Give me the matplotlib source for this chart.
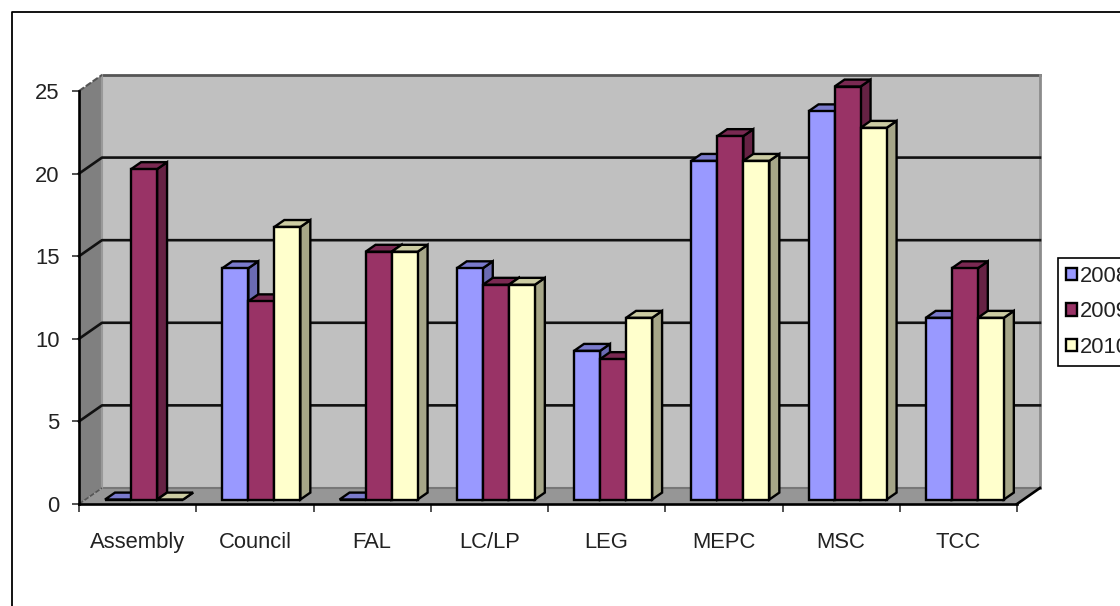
import numpy as np
from matplotlib import pyplot as plt
from matplotlib.lines import Line2D
from matplotlib.patches import Polygon

plt.rcParams['font.family'] = ['Liberation Sans', 'DejaVu Sans']

categories = ['Assembly', 'Council', 'FAL', 'LC/LP', 'LEG', 'MEPC', 'MSC', 'TCC']
years = ['2008', '2009', '2010']
v2008 = [0, 14, 0, 14, 9, 20.5, 23.5, 11]
v2009 = [20, 12, 15, 13, 8.5, 22, 25, 14]
v2010 = [0, 16.5, 15, 13, 11, 20.5, 22.5, 11]
yticks = [0, 5, 10, 15, 20, 25]

# front, top, side colours of each series
front = ['#9999FF', '#993366', '#FFFFCC']
top = ['#7A7ACC', '#7A2952', '#CCCCA3']
side = ['#6B6BB3', '#662244', '#A6A688']

fig = plt.figure(figsize=(11.2, 6.06), dpi=100)
ax = fig.add_axes([79/1120, 1-504/606, (1017-79)/1120, (504-91)/606])
ax.set_xlim(0, 8)
ax.set_ylim(0, 25)

# depth of the box and of the bars, in data units
box_dx, box_dy = 0.196, 0.97
bar_dx, bar_dy = 0.085, 0.42
off_x, off_y = 0.055, 0.27
w = 0.222


def poly(pts, fc, ec='none', lw=0, z=1):
    ax.add_patch(Polygon(pts, closed=True, fc=fc, ec=ec, lw=lw, zorder=z,
                         clip_on=False, joinstyle='miter'))


# walls and floor
poly([(box_dx, box_dy), (8+box_dx, box_dy), (8+box_dx, 25+box_dy), (box_dx, 25+box_dy)], '#C0C0C0')
poly([(0, 0), (box_dx, box_dy), (box_dx, 25+box_dy), (0, 25)], '#808080')
poly([(0, 0), (8, 0), (8+box_dx, box_dy), (box_dx, box_dy)], '#969696')

# edges of the back wall
ax.plot([box_dx, 8+box_dx], [25+box_dy]*2, color='#555555', lw=2, clip_on=False, zorder=2)
ax.plot([box_dx, 8+box_dx], [box_dy]*2, color='#777777', lw=1.5, clip_on=False, zorder=2)
ax.plot([box_dx, box_dx], [box_dy, 25+box_dy], color='#999999', lw=1.5, clip_on=False, zorder=2)
ax.plot([8+box_dx, 8+box_dx], [box_dy, 25+box_dy], color='#8C8C8C', lw=2, clip_on=False, zorder=2)

# gridlines
for t in yticks[1:-1]:
    ax.plot([0, box_dx, 8+box_dx], [t, t+box_dy, t+box_dy], color='#111111', lw=1.9,
            clip_on=False, zorder=3)
ax.plot([0, box_dx], [25, 25+box_dy], color='#555555', lw=1.5, ls=(0, (3, 1)), clip_on=False, zorder=3)
ax.plot([0, box_dx], [0, box_dy], color='#555555', lw=1.2, ls=(0, (3, 1)), clip_on=False, zorder=3)
ax.plot([8, 8+box_dx], [0, box_dy], color='black', lw=1.9, clip_on=False, zorder=3)

# bars, left to right so each one covers the side of the one before
series = [v2008, v2009, v2010]
z = 5
for i in range(len(categories)):
    start = i + (1 - 3*w)/2 + off_x
    for j, vals in enumerate(series):
        v = vals[i]
        x0 = start + j*w
        y1 = off_y + v
        poly([(x0+w, off_y), (x0+w+bar_dx, off_y+bar_dy), (x0+w+bar_dx, y1+bar_dy), (x0+w, y1)],
             side[j], 'black', 1.7, z)
        poly([(x0, y1), (x0+w, y1), (x0+w+bar_dx, y1+bar_dy), (x0+bar_dx, y1+bar_dy)],
             top[j], 'black', 1.7, z)
        ax.bar(x0, v, w, bottom=off_y, align='edge', color=front[j], edgecolor='black', lw=1.7,
               zorder=z, clip_on=False, label=years[j] if i == 0 else None)
        z += 1

# axes
for s in ['top', 'right']:
    ax.spines[s].set_visible(False)
ax.patch.set_alpha(0)
for s in ['left', 'bottom']:
    ax.spines[s].set_color('black')
    ax.spines[s].set_linewidth(1.9)
    ax.spines[s].set_zorder(40)
ax.set_yticks(yticks)
ax.set_xticks(np.arange(0, 9))
ax.set_xticklabels([])
ax.set_xticks(np.arange(8)+0.5, categories, minor=True)
ax.tick_params(axis='x', which='major', length=6, width=1.2, color='#333333')
ax.tick_params(axis='x', which='minor', length=0, pad=20, labelsize=15.8, labelcolor='#222222')
ax.tick_params(axis='y', length=5, width=1.2, pad=9, labelsize=15.8, labelcolor='#222222', color='#333333')

# chart frame, open on the cropped sides
fig.add_artist(Line2D([12/1120, 12/1120, 1], [0, 1-12/606, 1-12/606], color='black', lw=1.3))

leg = ax.legend(loc='upper left', bbox_to_anchor=(1058/1120, 1-258/606), bbox_transform=fig.transFigure,
                fontsize=15.8, frameon=True, fancybox=False, edgecolor='black', framealpha=1,
                borderaxespad=0, borderpad=0.36, handlelength=0.5, handleheight=0.5,
                handletextpad=0.15, labelspacing=0.66)
leg.set_zorder(50)
leg.get_frame().set_linewidth(1.2)
for text in leg.get_texts():
    text.set_color('#222222')

plt.savefig('out.png', dpi=100)
